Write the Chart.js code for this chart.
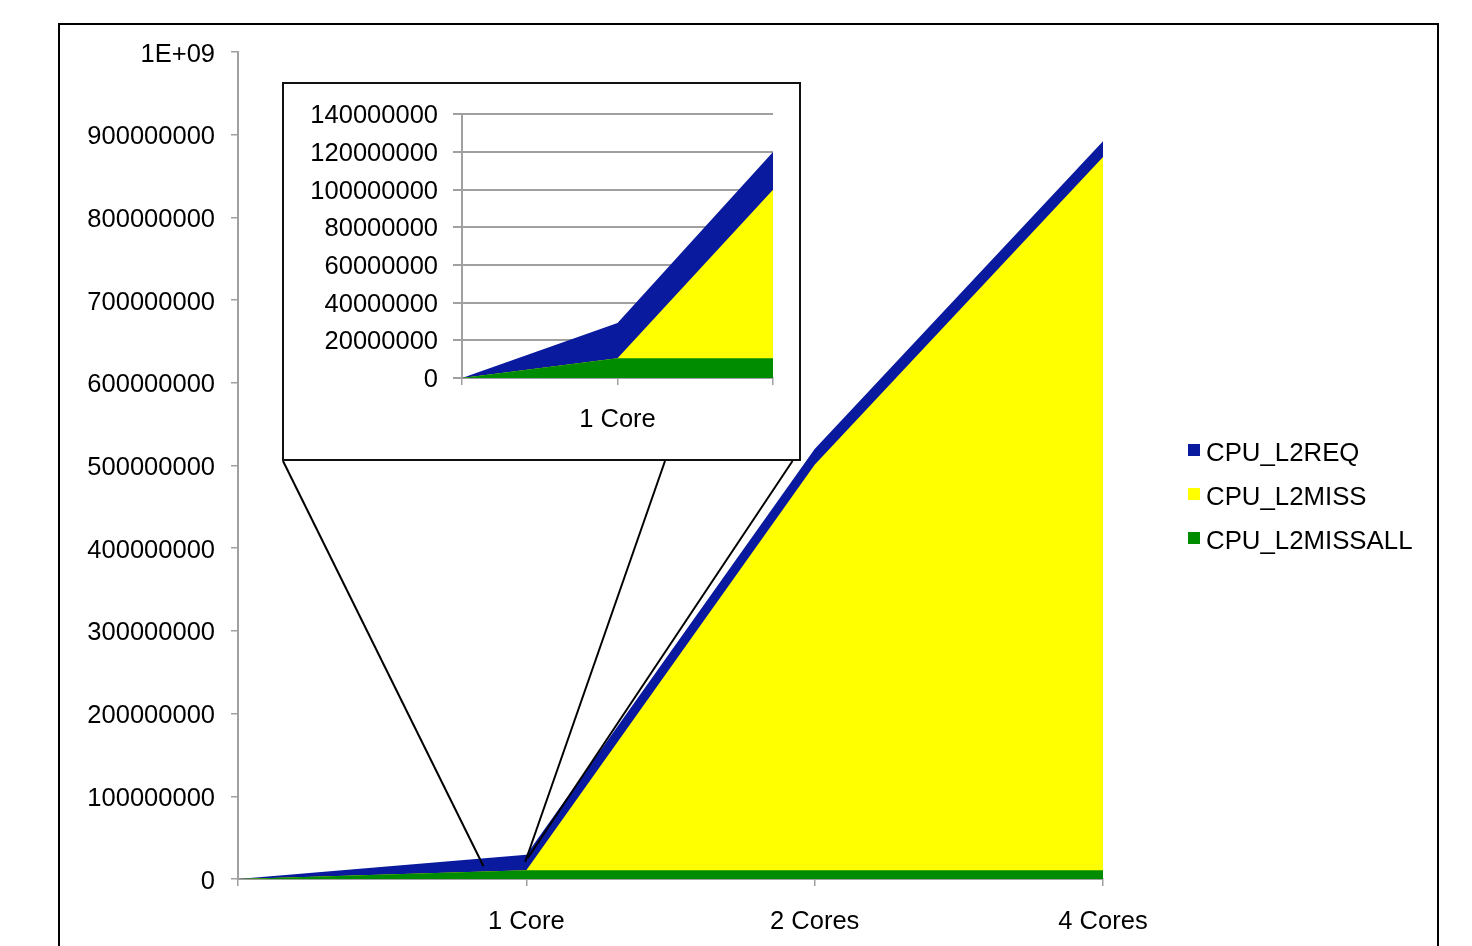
<!DOCTYPE html>
<html>
<head>
<meta charset="utf-8">
<script src="https://cdn.jsdelivr.net/npm/chart.js@4.4.1/dist/chart.umd.min.js"></script>
<style>
  html, body { margin: 0; padding: 0; background: #fff; overflow: hidden; }
  #stage { position: relative; width: 1472px; height: 946px; overflow: hidden; }
  #main { position: absolute; left: 0; top: 0; }
  #frame {
    position: absolute; left: 58px; top: 23px; width: 1381px; height: 1000px;
    border: 2px solid #000; box-sizing: border-box; pointer-events: none;
  }
  #inset {
    position: absolute; left: 282px; top: 82px; width: 519px; height: 379px;
    border: 2px solid #111; box-sizing: border-box; background: #fff;
  }
  #insetCanvas { display: block; }
</style>
</head>
<body>
<div id="stage">
  <canvas id="main" width="1472" height="946"></canvas>
  <div id="frame"></div>
  <div id="inset"><canvas id="insetCanvas" width="515" height="375"></canvas></div>
</div>
<script>
// ---- data: full run ----
const mainCategories = ['', '1 Core', '2 Cores', '4 Cores'];
const l2req      = [0, 29200000, 520000000, 892000000];
const l2miss     = [0, 10500000, 501000000, 873000000];
const l2missAll  = [0, 10500000, 10500000, 10500000];
const mainYTickLabels = ['0', '100000000', '200000000', '300000000', '400000000',
  '500000000', '600000000', '700000000', '800000000', '900000000', '1E+09'];

// ---- data: close-up around the single-core run ----
const insetCategories = ['', '1 Core', ''];
const insetL2req     = [0, 29200000, 120000000];
const insetL2miss    = [0, 10500000, 100000000];
const insetL2missAll = [0, 10500000, 10500000];
const insetYTickLabels = ['0', '20000000', '40000000', '60000000', '80000000',
  '100000000', '120000000', '140000000'];

const seriesNames = ['CPU_L2REQ', 'CPU_L2MISS', 'CPU_L2MISSALL'];
const seriesColors = ['#0a1a9f', '#ffff00', '#008c00'];

const AXIS = '#a0a0a0';
const GRID = '#a0a0a0';
const FONT = "'Liberation Sans', Arial, sans-serif";

Chart.defaults.font.family = FONT;
Chart.defaults.font.size = 25.5;
Chart.defaults.color = '#000';

// Non-stacked areas; the last dataset is painted first, so L2REQ sits at the back
function buildSeries(req, miss, all) {
  const values = [req, miss, all];
  return [2, 1, 0].map(i => ({
    label: seriesNames[i],
    data: values[i],
    backgroundColor: seriesColors[i],
    borderColor: 'rgba(0,0,0,0)',
    borderWidth: 0,
    pointRadius: 0,
    tension: 0,
    fill: 'origin'
  }));
}

// Legend at the right, listed L2REQ -> L2MISSALL
const sideLegend = {
  id: 'sideLegend',
  afterDraw(chart, args, opts) {
    const ctx = chart.ctx;
    const items = chart.data.datasets.slice().reverse();
    ctx.save();
    ctx.font = '25.8px ' + FONT;
    ctx.textBaseline = 'middle';
    ctx.textAlign = 'left';
    items.forEach((ds, i) => {
      const cy = opts.top + i * opts.spacing;
      ctx.fillStyle = ds.backgroundColor;
      ctx.fillRect(opts.left, cy - opts.box / 2, opts.box, opts.box);
      ctx.fillStyle = '#000';
      ctx.fillText(ds.label, opts.left + opts.box + 6, cy + 3.5);
    });
    ctx.restore();
  }
};

// Connector lines from the close-up box down to the single-core region
const zoomLinks = {
  id: 'zoomLinks',
  afterDatasetsDraw(chart, args, opts) {
    const xs = chart.scales.x, ys = chart.scales.y;
    const ctx = chart.ctx;
    ctx.save();
    ctx.strokeStyle = '#000';
    ctx.lineWidth = 2;
    opts.links.forEach(l => {
      ctx.beginPath();
      ctx.moveTo(opts.originX + l.startOffset, opts.originY);
      ctx.lineTo(xs.getPixelForValue(l.index), ys.getPixelForValue(l.value));
      ctx.stroke();
    });
    ctx.restore();
  }
};

new Chart(document.getElementById('main'), {
  type: 'line',
  data: { labels: mainCategories, datasets: buildSeries(l2req, l2miss, l2missAll) },
  options: {
    responsive: false,
    animation: false,
    events: [],
    layout: { padding: { left: 0, top: 52, right: 369, bottom: 0 } },
    plugins: {
      legend: { display: false },
      tooltip: { enabled: false },
      sideLegend: { left: 1188, top: 450, spacing: 44, box: 12 },
      zoomLinks: {
        originX: 282, originY: 461,
        links: [
          { startOffset: 1,     index: 0.851, value: 15700000 },
          { startOffset: 383,   index: 0.996, value: 20600000 },
          { startOffset: 510.5, index: 1.005, value: 25400000 }
        ]
      }
    },
    scales: {
      x: {
        offset: false,
        grid: { drawOnChartArea: false, drawTicks: true, tickLength: 7, color: AXIS, lineWidth: 1.5 },
        border: { color: AXIS, width: 2 },
        ticks: { padding: 21, autoSkip: false, maxRotation: 0, color: '#000' },
        afterFit(s) { s.height = 67; }
      },
      y: {
        min: 0, max: 1000000000,
        grid: { drawOnChartArea: false, drawTicks: true, tickLength: 7, color: AXIS, lineWidth: 1.5 },
        border: { color: AXIS, width: 2 },
        ticks: { stepSize: 100000000, padding: 16, labelOffset: 2.5, color: '#000',
                 callback: (v, i) => mainYTickLabels[i] },
        afterFit(s) { s.width = 238; }
      }
    }
  },
  plugins: [sideLegend, zoomLinks]
});

new Chart(document.getElementById('insetCanvas'), {
  type: 'line',
  data: { labels: insetCategories, datasets: buildSeries(insetL2req, insetL2miss, insetL2missAll) },
  options: {
    responsive: false,
    animation: false,
    events: [],
    layout: { padding: { left: 0, top: 28, right: 26, bottom: 0 } },
    plugins: { legend: { display: false }, tooltip: { enabled: false } },
    scales: {
      x: {
        offset: false,
        grid: { drawOnChartArea: false, drawTicks: true, tickLength: 7, color: AXIS, lineWidth: 1.5 },
        border: { color: AXIS, width: 2 },
        ticks: { padding: 20, autoSkip: false, maxRotation: 0, color: '#000' },
        afterFit(s) { s.height = 81; }
      },
      y: {
        min: 0, max: 140000000,
        grid: { drawOnChartArea: true, drawTicks: true, tickLength: 9, color: GRID, lineWidth: 2 },
        border: { color: AXIS, width: 2 },
        ticks: { stepSize: 20000000, padding: 15, labelOffset: 2, color: '#000',
                 callback: (v, i) => insetYTickLabels[i] },
        afterFit(s) { s.width = 178; }
      }
    }
  }
});
</script>
</body>
</html>
